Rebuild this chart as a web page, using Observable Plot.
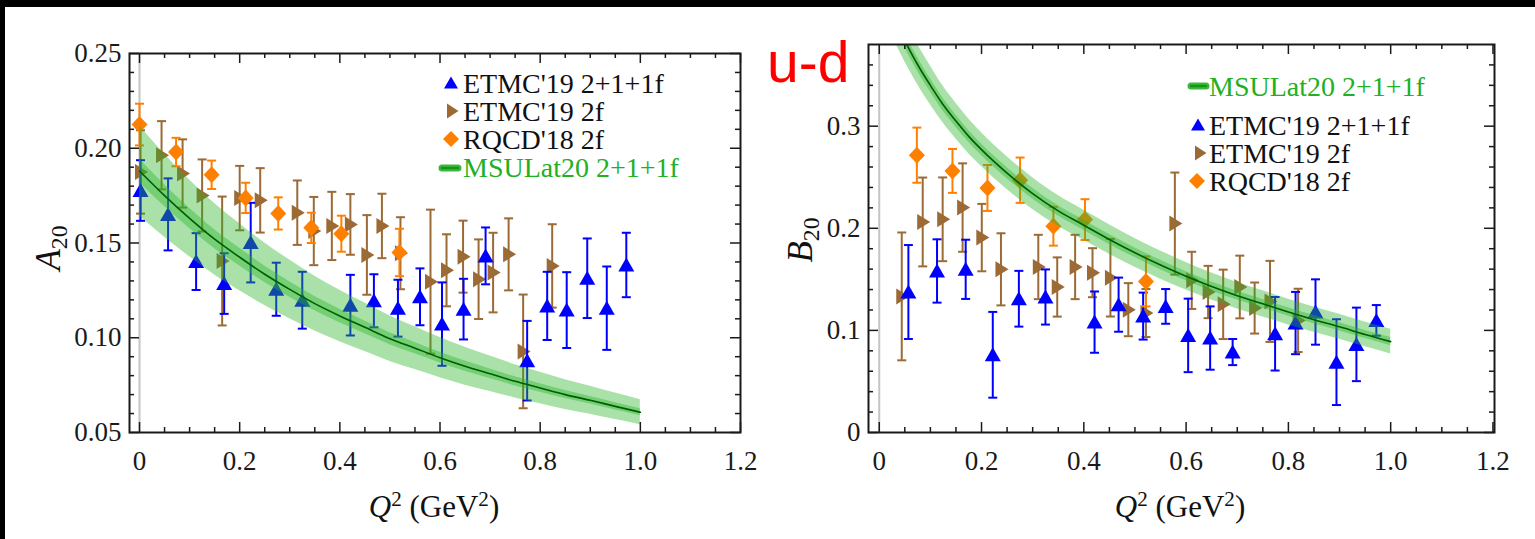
<!DOCTYPE html>
<html><head><meta charset="utf-8">
<script src="https://cdn.jsdelivr.net/npm/d3@7"></script>
<script src="https://cdn.jsdelivr.net/npm/@observablehq/plot@0.6"></script>
<style>
html,body{margin:0;padding:0;background:#fff;width:1535px;height:539px;overflow:hidden;position:relative}
.abs{position:absolute}
.serif{font-family:"Liberation Serif",serif;white-space:nowrap;line-height:1;color:#111}
</style></head><body>
<div class="abs" style="left:0;top:0;width:1535px;height:7px;background:#000"></div>
<div class="abs" style="left:0;top:0;width:5px;height:539px;background:#000"></div>
<div id="left" class="abs" style="left:0;top:0"></div>
<div id="right" class="abs" style="left:780px;top:0"></div>
<script>
// ---------------- tick values and labels ----------------
const xTicksMajor = [0, 0.2, 0.4, 0.6, 0.8, 1.0, 1.2];
const xTickLabels = ["0", "0.2", "0.4", "0.6", "0.8", "1.0", "1.2"];
const xTicksMinor = [0.05, 0.1, 0.15, 0.25, 0.3, 0.35, 0.45, 0.5, 0.55, 0.65, 0.7, 0.75, 0.85, 0.9, 0.95, 1.05, 1.1, 1.15];
const yTicksA = [0.05, 0.10, 0.15, 0.20, 0.25];
const yTickLabelsA = ["0.05", "0.10", "0.15", "0.20", "0.25"];
const yMinorA = [0.06, 0.07, 0.08, 0.09, 0.11, 0.12, 0.13, 0.14, 0.16, 0.17, 0.18, 0.19, 0.21, 0.22, 0.23, 0.24];
const yTicksB = [0, 0.1, 0.2, 0.3];
const yTickLabelsB = ["0", "0.1", "0.2", "0.3"];
const yMinorB = [0.02, 0.04, 0.06, 0.08, 0.12, 0.14, 0.16, 0.18, 0.22, 0.24, 0.26, 0.28, 0.32, 0.34, 0.36];

// ---------------- A20 panel data ----------------
const aEtmc4Q   = [0.002, 0.057, 0.113, 0.169, 0.222, 0.273, 0.325, 0.421, 0.468, 0.516, 0.560, 0.604, 0.647, 0.691, 0.774, 0.814, 0.853, 0.894, 0.933, 0.972];
const aEtmc4Val = [0.1777, 0.1651, 0.1402, 0.1286, 0.1502, 0.1256, 0.1198, 0.1172, 0.1195, 0.1156, 0.1216, 0.1072, 0.1151, 0.1432, 0.0879, 0.1168, 0.1146, 0.1314, 0.1156, 0.1384];
const aEtmc4Err = [0.016, 0.019, 0.015, 0.016, 0.021, 0.014, 0.015, 0.016, 0.014, 0.015, 0.015, 0.022, 0.016, 0.015, 0.021, 0.018, 0.020, 0.021, 0.022, 0.017];

const aEtmc2Q   = [0.002, 0.044, 0.086, 0.125, 0.165, 0.200, 0.241, 0.315, 0.348, 0.384, 0.421, 0.454, 0.484, 0.521, 0.581, 0.613, 0.646, 0.677, 0.706, 0.737, 0.766, 0.824];
const aEtmc2Val = [0.1875, 0.1963, 0.1867, 0.1751, 0.1405, 0.1737, 0.1725, 0.1660, 0.1563, 0.1590, 0.1598, 0.1437, 0.1590, 0.1446, 0.1296, 0.1356, 0.1428, 0.1309, 0.1344, 0.1440, 0.0928, 0.1379];
const aEtmc2Err = [0.022, 0.018, 0.018, 0.019, 0.034, 0.017, 0.017, 0.017, 0.018, 0.018, 0.016, 0.021, 0.017, 0.019, 0.038, 0.019, 0.019, 0.021, 0.021, 0.019, 0.030, 0.022];

const aRqcdQ   = [0, 0.073, 0.144, 0.212, 0.277, 0.343, 0.403, 0.519];
const aRqcdVal = [0.2125, 0.1980, 0.1860, 0.1738, 0.1656, 0.1580, 0.1549, 0.1450];
const aRqcdErr = [0.011, 0.0075, 0.0075, 0.008, 0.0085, 0.008, 0.0095, 0.0125];

const aFitQ     = [0, 0.05, 0.1, 0.15, 0.2, 0.25, 0.3, 0.35, 0.4, 0.45, 0.5, 0.55, 0.6, 0.65, 0.7, 0.75, 0.8, 0.85, 0.9, 0.95, 1.0];
const aFitVal   = [0.188, 0.175, 0.163, 0.152, 0.1425, 0.1335, 0.1255, 0.118, 0.1115, 0.1055, 0.0995, 0.0945, 0.0895, 0.085, 0.081, 0.077, 0.0735, 0.070, 0.067, 0.0638, 0.0607];
const aFitOuter = [0.0237, 0.0219, 0.0203, 0.0189, 0.0177, 0.0165, 0.0155, 0.0145, 0.0136, 0.0128, 0.0120, 0.0113, 0.0106, 0.0100, 0.0094, 0.0088, 0.0083, 0.0078, 0.0074, 0.0070, 0.0066];
const aFitInner = [0.0062, 0.0058, 0.0054, 0.0050, 0.0047, 0.0044, 0.0041, 0.0038, 0.0036, 0.0034, 0.0032, 0.0030, 0.0028, 0.0027, 0.0025, 0.0024, 0.0022, 0.0021, 0.0020, 0.0019, 0.0018];

// ---------------- B20 panel data ----------------
const bEtmc4Q   = [0.057, 0.113, 0.169, 0.222, 0.273, 0.325, 0.421, 0.468, 0.516, 0.560, 0.604, 0.647, 0.691, 0.774, 0.814, 0.853, 0.894, 0.933, 0.972];
const bEtmc4Val = [0.1376, 0.1582, 0.1598, 0.0761, 0.1310, 0.1327, 0.1081, 0.1252, 0.1140, 0.1235, 0.0951, 0.0925, 0.0788, 0.0967, 0.1072, 0.1180, 0.0689, 0.0863, 0.1098];
const bEtmc4Err = [0.046, 0.031, 0.029, 0.042, 0.0273, 0.027, 0.030, 0.0265, 0.023, 0.017, 0.036, 0.031, 0.0128, 0.036, 0.0305, 0.032, 0.042, 0.036, 0.015];

const bEtmc2Q   = [0.044, 0.085, 0.124, 0.163, 0.2005, 0.238, 0.311, 0.348, 0.383, 0.417, 0.452, 0.487, 0.5215, 0.578, 0.611, 0.643, 0.6725, 0.705, 0.734, 0.764, 0.819];
const bEtmc2Val = [0.1333, 0.2062, 0.2088, 0.2203, 0.1909, 0.1598, 0.1621, 0.1425, 0.1621, 0.1565, 0.1516, 0.1203, 0.1170, 0.2046, 0.1490, 0.1376, 0.1255, 0.1425, 0.1219, 0.1284, 0.1098];
const bEtmc2Err = [0.0626, 0.0435, 0.041, 0.0433, 0.033, 0.0353, 0.0315, 0.029, 0.0315, 0.024, 0.038, 0.026, 0.0235, 0.050, 0.028, 0.0256, 0.034, 0.0307, 0.025, 0.0397, 0.031];

const bRqcdQ   = [0.0736, 0.1432, 0.2116, 0.2754, 0.3405, 0.4023, 0.5215];
const bRqcdVal = [0.2716, 0.2562, 0.2395, 0.2471, 0.2020, 0.2085, 0.1480];
const bRqcdErr = [0.027, 0.0215, 0.0225, 0.0222, 0.019, 0.020, 0.0245];

const bFitQ     = [0.02, 0.04, 0.06, 0.08, 0.1, 0.125, 0.15, 0.175, 0.2, 0.25, 0.3, 0.35, 0.4, 0.45, 0.5, 0.55, 0.6, 0.65, 0.7, 0.75, 0.8, 0.85, 0.9, 0.95, 1.0];
const bFitVal   = [0.416, 0.394, 0.374, 0.356, 0.340, 0.321, 0.305, 0.290, 0.277, 0.254, 0.234, 0.217, 0.203, 0.189, 0.176, 0.164, 0.153, 0.143, 0.134, 0.126, 0.118, 0.1105, 0.1035, 0.096, 0.089];
const bFitOuter = [0.022, 0.021, 0.020, 0.0195, 0.019, 0.018, 0.0175, 0.017, 0.0165, 0.016, 0.0155, 0.015, 0.0147, 0.0144, 0.0141, 0.0138, 0.0135, 0.0132, 0.013, 0.0128, 0.0126, 0.0124, 0.0122, 0.0121, 0.012];
const bFitInner = [0.007, 0.007, 0.0068, 0.0066, 0.0064, 0.0062, 0.006, 0.0058, 0.0056, 0.0054, 0.0052, 0.005, 0.0049, 0.0048, 0.0047, 0.0046, 0.0045, 0.0044, 0.0043, 0.0042, 0.0041, 0.0041, 0.004, 0.004, 0.004];

// ---------------- styles ----------------
const BLUE = "#0000ff", BROWN = "#9b6a35", ORANGE = "#ff8000";
const GREEN = "rgb(40,180,40)", LINE = "#005c00", TEXTGREEN = "rgb(34,176,34)";

// custom symbols (fixed pixel shapes)
const capSym = {draw(c) { c.moveTo(-4.5, 0); c.lineTo(4.5, 0); }};
const triUp = {draw(c) { c.moveTo(0, -7.5); c.lineTo(8, 6.5); c.lineTo(-8, 6.5); c.closePath(); }};
const triRight = {draw(c) { c.moveTo(-5.5, -8); c.lineTo(7.5, 0); c.lineTo(-5.5, 8); c.closePath(); }};
const diamond = {draw(c) { c.moveTo(0, -8.5); c.lineTo(8, 0); c.lineTo(0, 8.5); c.lineTo(-8, 0); c.closePath(); }};

const pts = (q, v, e) => q.map((d, i) => ({q: d, v: v[i], lo: v[i] - e[i], hi: v[i] + e[i]}));
const fit = (q, v, o, n) => q.map((d, i) => ({q: d, v: v[i], lo: v[i] - o[i], hi: v[i] + o[i], lo2: v[i] - n[i], hi2: v[i] + n[i]}));

function series(data, color, sym) {
  return [
    Plot.ruleX(data, {x: "q", y1: "lo", y2: "hi", stroke: color, strokeWidth: 2}),
    Plot.dot(data, {x: "q", y: "lo", symbol: capSym, r: 3, stroke: color, fill: "none", strokeWidth: 2}),
    Plot.dot(data, {x: "q", y: "hi", symbol: capSym, r: 3, stroke: color, fill: "none", strokeWidth: 2}),
    Plot.dot(data, {x: "q", y: "v", symbol: sym, r: 3, fill: color, stroke: "none"})
  ];
}

function panel(cfg) {
  const fw = cfg.width - cfg.ml - cfg.mr, fh = cfg.height - cfg.mt - cfg.mb;
  const yLab = new Map(cfg.yTicks.map((d, i) => [d, cfg.yLabels[i]]));
  const xLab = new Map(xTicksMajor.map((d, i) => [d, xTickLabels[i]]));
  const band = cfg.fit;
  const tk = {stroke: "#1a1a1a", strokeWidth: 1.5};
  return Plot.plot({
    width: cfg.width, height: cfg.height,
    marginLeft: cfg.ml, marginRight: cfg.mr, marginTop: cfg.mt, marginBottom: cfg.mb,
    x: {domain: cfg.xDomain},
    y: {domain: cfg.yDomain},
    style: {fontFamily: "Liberation Serif, serif", fontSize: "27px", color: "#1a1a1a", background: "transparent", overflow: "visible"},
    marks: [
      Plot.ruleX([0], {stroke: "#c4c4c4", strokeWidth: 2}),
      ...cfg.series.flatMap(s => series(s[0], s[1], s[2])),
      Plot.areaY(band, {x: "q", y1: "lo", y2: "hi", fill: GREEN, fillOpacity: 0.4, curve: "monotone-x", clip: true}),
      Plot.areaY(band, {x: "q", y1: "lo2", y2: "hi2", fill: GREEN, fillOpacity: 0.4, curve: "monotone-x", clip: true}),
      Plot.line(band, {x: "q", y: "v", stroke: LINE, strokeWidth: 1.6, curve: "monotone-x", clip: true}),
      Plot.ruleX(xTicksMajor, {...tk, insetTop: fh - 10}),
      Plot.ruleX(xTicksMajor, {...tk, insetBottom: fh - 10}),
      Plot.ruleX(xTicksMinor, {...tk, insetTop: fh - 5}),
      Plot.ruleX(xTicksMinor, {...tk, insetBottom: fh - 5}),
      Plot.ruleY(cfg.yTicks, {...tk, insetRight: fw - 10}),
      Plot.ruleY(cfg.yTicks, {...tk, insetLeft: fw - 10}),
      Plot.ruleY(cfg.yMinor, {...tk, insetRight: fw - 5}),
      Plot.ruleY(cfg.yMinor, {...tk, insetLeft: fw - 5}),
      Plot.frame({stroke: "#1a1a1a", strokeWidth: 2}),
      Plot.axisX(xTicksMajor, {anchor: "bottom", tickSize: 0, tickPadding: 18, tickFormat: d => xLab.get(d), label: null}),
      Plot.axisY(cfg.yTicks, {anchor: "left", tickSize: 0, tickPadding: 8, tickFormat: d => yLab.get(d), label: null})
    ]
  });
}

document.getElementById("left").append(panel({
  width: 760, height: 492, ml: 129, mr: 20, mt: 53, mb: 60,
  xDomain: [-0.02, 1.2], yDomain: [0.05, 0.25],
  yTicks: yTicksA, yLabels: yTickLabelsA, yMinor: yMinorA,
  fit: fit(aFitQ, aFitVal, aFitOuter, aFitInner),
  series: [
    [pts(aEtmc2Q, aEtmc2Val, aEtmc2Err), BROWN, triRight],
    [pts(aEtmc4Q, aEtmc4Val, aEtmc4Err), BLUE, triUp],
    [pts(aRqcdQ, aRqcdVal, aRqcdErr), ORANGE, diamond]
  ]
}));

document.getElementById("right").append(panel({
  width: 755, height: 492, ml: 88, mr: 41, mt: 44, mb: 60,
  xDomain: [-0.021, 1.203], yDomain: [0, 0.38],
  yTicks: yTicksB, yLabels: yTickLabelsB, yMinor: yMinorB,
  fit: fit(bFitQ, bFitVal, bFitOuter, bFitInner),
  series: [
    [pts(bEtmc2Q, bEtmc2Val, bEtmc2Err), BROWN, triRight],
    [pts(bEtmc4Q, bEtmc4Val, bEtmc4Err), BLUE, triUp],
    [pts(bRqcdQ, bRqcdVal, bRqcdErr), ORANGE, diamond]
  ]
}));

// ---------------- legends ----------------
const legendNames = ["ETMC'19 2+1+1f", "ETMC'19 2f", "RQCD'18 2f", "MSULat20 2+1+1f"];
const LEG_FS = 28, LEG_LH = 28;
function addText(text, x, baseline, color) {
  const d = document.createElement("div");
  d.className = "abs serif";
  d.style.fontSize = LEG_FS + "px";
  d.style.lineHeight = LEG_LH + "px";
  const off = (LEG_LH - 1.107 * LEG_FS) / 2 + 0.891 * LEG_FS;
  d.style.left = x + "px";
  d.style.top = (baseline - off) + "px";
  if (color) d.style.color = color;
  d.textContent = text;
  document.body.append(d);
}
// left legend
addText(legendNames[0], 463, 93);
addText(legendNames[1], 463, 121);
addText(legendNames[2], 463, 149);
addText(legendNames[3], 463, 177, TEXTGREEN);
// right legend
addText(legendNames[3], 1209, 96, TEXTGREEN);
addText(legendNames[0], 1209, 135);
addText(legendNames[1], 1209, 163);
addText(legendNames[2], 1209, 191);

// legend symbols
const ns = "http://www.w3.org/2000/svg";
const ov = document.createElementNS(ns, "svg");
ov.setAttribute("width", 1535); ov.setAttribute("height", 539);
ov.setAttribute("style", "position:absolute;left:0;top:0;pointer-events:none");
function sym(path, x, y, fill) {
  const p = document.createElementNS(ns, "path");
  p.setAttribute("d", path); p.setAttribute("fill", fill);
  p.setAttribute("transform", `translate(${x},${y})`);
  ov.append(p);
}
function bar(x1, x2, y) {
  const l = document.createElementNS(ns, "line");
  l.setAttribute("x1", x1); l.setAttribute("x2", x2); l.setAttribute("y1", y); l.setAttribute("y2", y);
  l.setAttribute("stroke", "rgb(60,185,60)"); l.setAttribute("stroke-width", 7); l.setAttribute("stroke-linecap", "round");
  ov.append(l);
  const m = l.cloneNode(); m.setAttribute("stroke", "rgb(20,150,20)"); m.setAttribute("stroke-width", 2.5);
  ov.append(m);
}
const P_TRI = "M0,-6.5L7,5.5L-7,5.5Z", P_RT = "M-5,-7.5L6.5,0L-5,7.5Z", P_DIA = "M0,-8L8,0L0,8L-8,0Z";
sym(P_TRI, 451, 83, BLUE); sym(P_RT, 452, 111, BROWN); sym(P_DIA, 451, 139, ORANGE); bar(442, 458, 168);
sym(P_TRI, 1198, 125, BLUE); sym(P_RT, 1200, 153, BROWN); sym(P_DIA, 1197, 181, ORANGE); bar(1191, 1206, 86);
document.body.append(ov);

// axis titles
function title(html, cx, cy, rot, fs) {
  const d = document.createElement("div");
  d.className = "abs serif";
  d.style.left = cx + "px"; d.style.top = cy + "px";
  d.style.fontSize = fs + "px";
  d.style.transform = `translate(-50%,-50%)${rot ? " rotate(-90deg)" : ""}`;
  d.innerHTML = html;
  document.body.append(d);
}
const sub = s => `<span style="font-size:0.68em;position:relative;top:0.3em">${s}</span>`;
const sup = s => `<span style="font-size:0.68em;position:relative;top:-0.5em">${s}</span>`;
title(`<i>A</i>${sub("20")}`, 48, 248, true, 35);
title(`<i>B</i>${sub("20")}`, 800, 240, true, 35);
title(`<i>Q</i>${sup("2")} (GeV${sup("2")})`, 434, 506, false, 31);
title(`<i>Q</i>${sup("2")} (GeV${sup("2")})`, 1180, 506, false, 31);

// u-d label
const ud = document.createElement("div");
ud.className = "abs";
ud.style.cssText = "left:767px;top:34px;font-family:'Liberation Sans',Arial,sans-serif;font-size:57px;line-height:1;color:#ff0000";
ud.textContent = "u-d";
document.body.append(ud);
</script>
</body></html>
